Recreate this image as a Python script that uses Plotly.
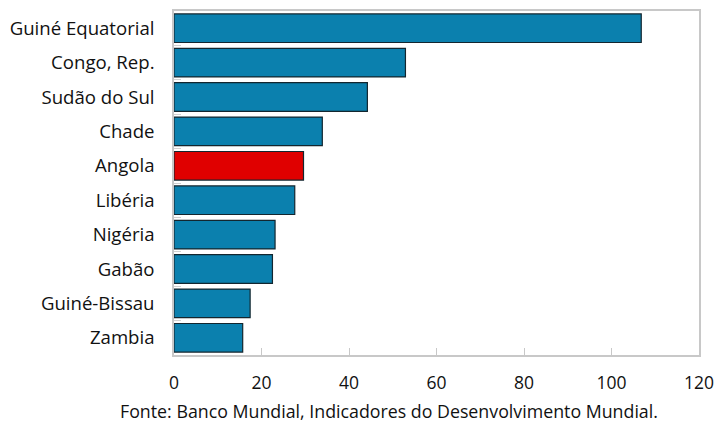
import plotly.graph_objects as go

countries = ["Guiné Equatorial", "Congo, Rep.", "Sudão do Sul", "Chade", "Angola",
             "Libéria", "Nigéria", "Gabão", "Guiné-Bissau", "Zambia"]
values = [106.8, 52.9, 44.2, 33.9, 29.6, 27.6, 23.1, 22.5, 17.4, 15.7]
highlight = "Angola"
x_ticks = [0, 20, 40, 60, 80, 100, 120]
source_text = "Fonte: Banco Mundial, Indicadores do Desenvolvimento Mundial."

colors = ["#E00000" if c == highlight else "#0B80AE" for c in countries]

fig = go.Figure(go.Bar(
    y=countries, x=values, orientation="h",
    marker=dict(color=colors, line=dict(color="#13262F", width=1.2)),
))

fam = "Open Sans, Noto Sans, sans-serif"
font_y = dict(family=fam, size=18.6, color="#111111")
font_x = dict(family=fam, size=17.5, color="#111111")
font_src = dict(family=fam, size=17.8, color="#111111")

fig.update_layout(
    width=717, height=423,
    margin=dict(l=174, r=18, t=11, b=68, autoexpand=False),
    paper_bgcolor="white", plot_bgcolor="white",
    bargap=0.17,
    showlegend=False,
    font=font_y,
    xaxis=dict(range=[0, 120], tickvals=x_ticks, ticks="inside", ticklen=7,
               tickcolor="#C8C8C8", showgrid=False, zeroline=False,
               showline=True, linecolor="#C8C8C8", linewidth=1.5, mirror=True,
               ticklabelstandoff=11, tickfont=font_x, automargin=False),
    yaxis=dict(categoryorder="array", categoryarray=countries, autorange="reversed",
               ticks="inside", ticklen=7, tickcolor="#D0D0D0", tickson="boundaries",
               showgrid=False, showline=True, linecolor="#C8C8C8", linewidth=1.5,
               mirror=True, ticklabelstandoff=14, tickfont=font_y, automargin=False),
    annotations=[dict(text=source_text, xref="paper", yref="paper",
                      x=0.41, y=-0.163, xanchor="center", yanchor="middle",
                      showarrow=False, font=font_src)],
)

fig.write_html("out.html")
